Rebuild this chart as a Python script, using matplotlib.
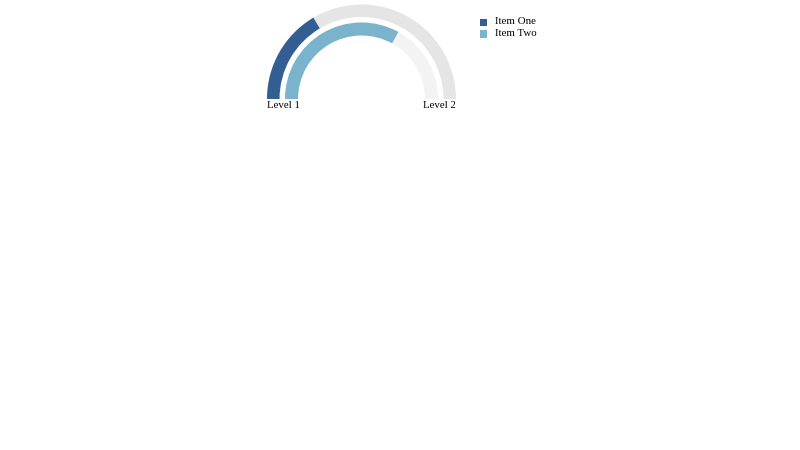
import matplotlib
matplotlib.use("Agg")
import matplotlib.pyplot as plt
from matplotlib.patches import Wedge, Rectangle

# gauge data
items = ["Item One", "Item Two"]
values = [33, 66]
max_value = 100
colors = ["#335e93", "#7ab4cc"]
track_colors = ["#e5e5e5", "#f3f3f3"]
range_labels = ["Level 1", "Level 2"]

plt.rcParams["font.family"] = ["Liberation Serif", "DejaVu Serif"]

fig = plt.figure(figsize=(8, 4.5), dpi=100)
ax = fig.add_axes([0, 0, 1, 1])
ax.set_xlim(0, 800)
ax.set_ylim(450, 0)
ax.axis("off")

cx, cy = 361.5, 99
radii = [94.5, 76.5]
widths = [12.5, 13]

for i, v in enumerate(values):
    r = radii[i]
    # background track
    ax.add_patch(Wedge((cx, cy), r, 180, 360, width=widths[i], color=track_colors[i], lw=0))
    # value arc (y axis inverted, so angles go the other way)
    end = 180 + 180 * v / max_value
    ax.add_patch(Wedge((cx, cy), r, 180, end, width=widths[i], color=colors[i], lw=0))

ax.text(cx - radii[0], 107.5, range_labels[0], ha="left", va="baseline", fontsize=7.8)
ax.text(cx + radii[0], 107.5, range_labels[1], ha="right", va="baseline", fontsize=7.8)

# legend
for i, name in enumerate(items):
    y = 22 + i * 11.5
    ax.add_patch(Rectangle((479.5, y - 3.5), 7.5, 7.5, color=colors[i], lw=0))
    ax.text(495, y + 2.5, name, ha="left", va="baseline", fontsize=7.8)

fig.savefig("out.png", dpi=100)
